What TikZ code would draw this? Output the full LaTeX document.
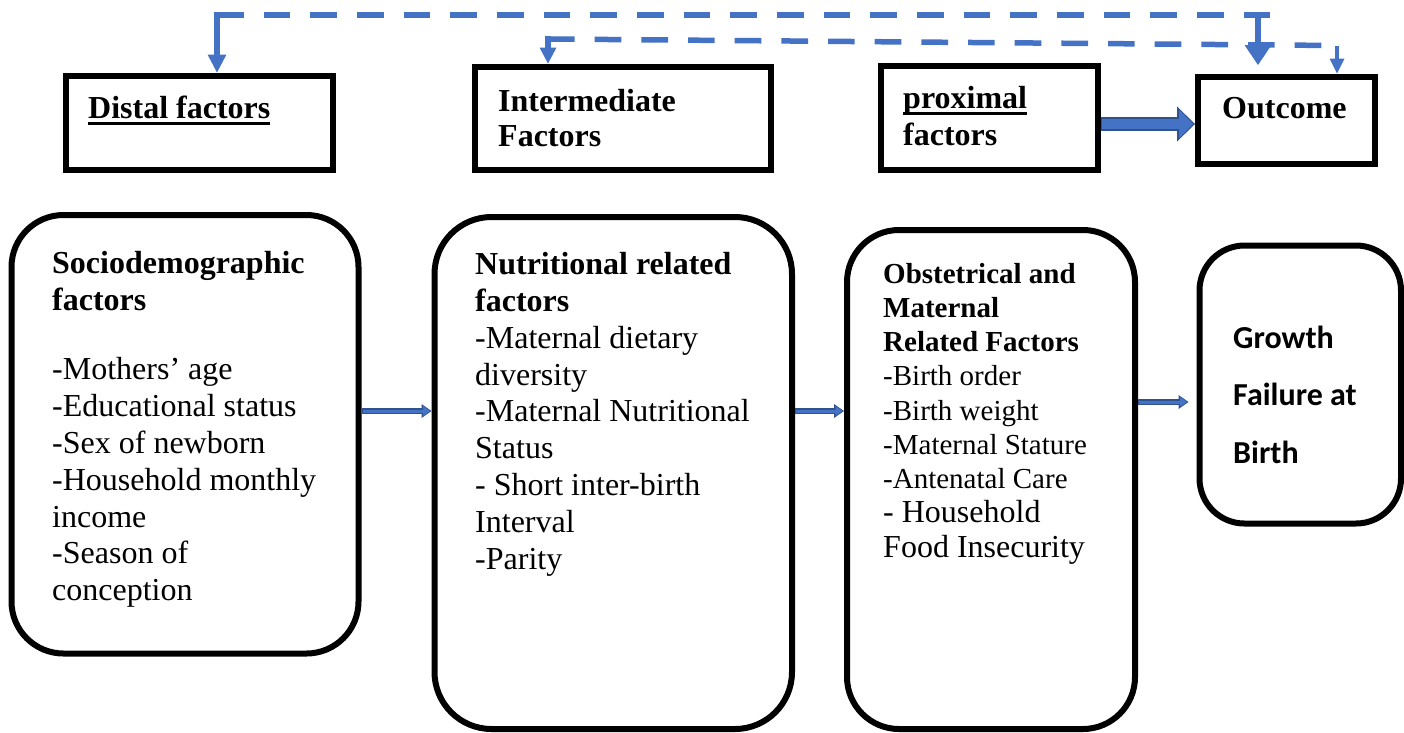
\documentclass[tikz,border=0pt]{standalone}
\usepackage{fontspec}
\setmainfont{Liberation Serif}
\newfontfamily\calib{Carlito}
\usetikzlibrary{arrows.meta}
\definecolor{bA}{HTML}{4472C4}
\definecolor{bD}{HTML}{2F528F}
\definecolor{bM}{HTML}{3B64B3}
\newcommand\myul[1]{\setbox0\hbox{#1}\rlap{\rule[-7pt]{\wd0}{3.2pt}}\box0}
\newcommand\bigln[1]{{\fontsize{32}{34.25}\selectfont #1}}
\begin{document}
\begin{tikzpicture}[x=1pt,y=-1pt,
  tbox/.style={draw,line width=6pt,inner sep=0pt},
  rbox/.style={draw,line width=6pt,inner sep=0pt,rounded corners=#1},
  txt/.style={anchor=north west,inner sep=0pt,align=left,font=\fontsize{32}{36.8}\selectfont},
  dsh/.style={bA,line width=5.5pt,dash pattern=on 26.67pt off 20pt},
  stem/.style={bA,line width=5.5pt},
  linko/.style={bD,line width=6pt,-{Triangle[length=10pt,width=14pt,line width=0pt]}},
  linki/.style={bA,line width=3pt,shorten >=1.5pt,shorten <=1pt,-{Triangle[length=7pt,width=10pt,line width=0pt]}}]
\useasboundingbox (0,0) rectangle (1404,732);

% top boxes
\node[tbox,minimum width=267pt,minimum height=94.5pt] (distal) at (199.5,122.75) {};
\node[tbox,minimum width=296pt,minimum height=103.5pt] (inter) at (623,118.25) {};
\node[tbox,minimum width=217pt,minimum height=104pt] (prox) at (989.5,118) {};
\node[tbox,minimum width=177pt,minimum height=87pt] (out) at (1286.5,120) {};

\node[txt] (tdistal) at (88,93) {\rule{0pt}{25pt}\textbf{\myul{Distal factors}}};
\node[txt,font=\fontsize{32}{35}\selectfont\bfseries] (tinter) at (498,86) {\rule{0pt}{25pt}Intermediate\\Factors};
\node[txt,font=\fontsize{32}{37}\selectfont\bfseries] (tprox) at (903,83) {\rule{0pt}{25pt}\myul{proximal}\\factors};
\node[txt] (tout) at (1222,93) {\rule{0pt}{25pt}\textbf{Outcome}};

% lower rounded boxes
\node[rbox=52pt,minimum width=347pt,minimum height=438.5pt] (b1) at (185,434.25) {};
\node[rbox=57pt,minimum width=357.5pt,minimum height=512pt] (b2) at (613.25,473) {};
\node[rbox=52pt,minimum width=288pt,minimum height=499pt] (b3) at (991,479.5) {};
\node[rbox=45pt,minimum width=201.5pt,minimum height=278pt] (b4) at (1300.25,384.5) {};

\node[txt] (t1) at (52,248) {\rule{0pt}{25pt}\textbf{Sociodemographic}\\\textbf{factors}\\[33pt]-Mothers' age\\-Educational status\\-Sex of newborn\\-Household monthly\\income\\-Season of\\conception};
\node[txt] (t2) at (475,249.5) {\rule{0pt}{25pt}\textbf{Nutritional related}\\\textbf{factors}\\-Maternal dietary\\diversity\\-Maternal Nutritional\\Status\\- Short inter-birth\\Interval\\-Parity};
\node[txt,font=\fontsize{29}{34.25}\selectfont] (t3) at (883,260) {\rule{0pt}{23pt}\textbf{Obstetrical and}\\\textbf{Maternal}\\\textbf{Related Factors}\\-Birth order\\-Birth weight\\-Maternal Stature\\-Antenatal Care\\\bigln{- Household}\\\bigln{Food Insecurity}};
\node[txt,font=\calib\bfseries\fontsize{32}{57.5}\selectfont] (t4) at (1233,323) {\rule{0pt}{25pt}Growth\\Failure at\\Birth};

% arrows between rounded boxes
\coordinate (ya) at (0,411);
\coordinate (yb) at (0,402);
\draw[linko] (b1.east |- ya) -- (b2.west |- ya);
\draw[linki] (b1.east |- ya) -- (b2.west |- ya);
\draw[linko] (b2.east |- ya) -- (b3.west |- ya);
\draw[linki] (b2.east |- ya) -- (b3.west |- ya);
\draw[linko,shorten >=8pt] (b3.east |- yb) -- (b4.west |- yb);
\draw[linki,shorten >=9.5pt] (b3.east |- yb) -- (b4.west |- yb);

% thick arrow proximal -> outcome
\coordinate (yc) at (0,124);
\draw[bD,line width=14pt,-{Triangle[length=18pt,width=35pt,line width=0pt]}] (prox.east |- yc) -- (out.west |- yc);
\draw[bA,line width=10pt,shorten >=2pt,shorten <=1pt,-{Triangle[length=14pt,width=29pt,line width=0pt]}] (prox.east |- yc) -- (out.west |- yc);

% dashed feedback lines
\coordinate (d1) at (217,15);
\coordinate (d1e) at (1270,15);
\coordinate (d2) at (1258,12);
\coordinate (d2t) at (1258,65);
\draw[dsh] (d1) -- (d1e);
\draw[stem,shorten <=-2.75pt,-{Triangle[length=18pt,width=19pt,line width=0pt]}] (d1) -- (d1 |- distal.north);
\draw[bA,line width=6.5pt,-{Triangle[length=20pt,width=27pt,line width=0pt]}] (d2) -- (d2t);

\coordinate (e1) at (548,39);
\coordinate (e2) at (1337,45.5);
\draw[dsh] (e1) -- (e2);
\draw[stem,shorten <=-2.75pt,-{Triangle[length=16pt,width=17pt,line width=0pt]}] (e1) -- (e1 |- inter.north);
\draw[bA,line width=4.5pt,-{Triangle[length=15pt,width=15pt,line width=0pt]}] (e2) -- (e2 |- out.north);
\end{tikzpicture}
\end{document}
